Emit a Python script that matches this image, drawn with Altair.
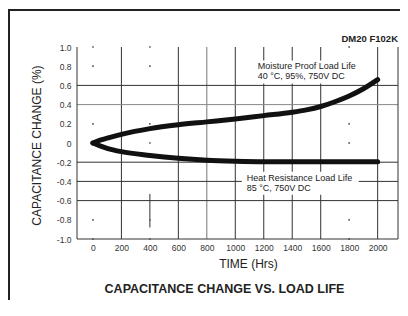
import altair as alt
import pandas as pd

FONT = "Liberation Sans"

# ---- data ----
hours = [0, 50, 100, 200, 400, 600, 800, 1000, 1200, 1400, 1500, 1600, 1700, 1800, 1900, 2000]
moisture = [0.0, 0.03, 0.05, 0.09, 0.15, 0.19, 0.22, 0.25, 0.285, 0.32, 0.345, 0.38, 0.43, 0.49, 0.565, 0.66]
heat = [0.0, -0.03, -0.055, -0.09, -0.13, -0.16, -0.18, -0.19, -0.195, -0.195, -0.195, -0.195, -0.195, -0.195, -0.195, -0.195]

x_ticks = [0, 200, 400, 600, 800, 1000, 1200, 1400, 1600, 1800, 2000]
y_ticks = [1.0, 0.8, 0.6, 0.4, 0.2, 0.0, -0.2, -0.4, -0.6, -0.8, -1.0]
x_domain = [-112, 2143]
y_domain = [-1.0, 1.0]

grid_x = [200, 600, 800, 1000, 1200, 1400, 1600, 2000]
grid_x_color = ["#333", "#333", "#777", "#333", "#333", "#333", "#333", "#333"]
grid_y = [0.6, 0.4, -0.2, -0.4, -0.6]
grid_y_color = ["#333", "#888", "#333", "#333", "#333"]
dots_x = [0, 400, 1800]
dots_y = [1.0, 0.8, 0.2, 0.0, -0.8, -1.0]
seg_x = [400]
seg_y = [-0.53]
seg_y2 = [-0.88]

box_x = [1123, 1046]
box_x2 = [1909, 1867]
box_y = [0.86, -0.30]
box_y2 = [0.62, -0.54]

note_text = ["Moisture Proof Load Life", "40 °C, 95%, 750V DC",
             "Heat Resistance Load Life", "85 °C, 750V DC"]
note_x = [1157, 1157, 1080, 1080]
note_y = [0.80, 0.70, -0.367, -0.467]

# ---- tables ----
curve_df = pd.DataFrame({
    "hours": hours * 2,
    "value": moisture + heat,
    "series": ["Moisture Proof Load Life"] * len(hours) + ["Heat Resistance Load Life"] * len(hours),
})
gx_df = pd.DataFrame({"x": grid_x, "c": grid_x_color})
gy_df = pd.DataFrame({"y": grid_y, "c": grid_y_color})
dots_df = pd.DataFrame([{"x": a, "y": b} for a in dots_x for b in dots_y])
seg_df = pd.DataFrame({"x": seg_x, "y": seg_y, "y2": seg_y2})
box_df = pd.DataFrame({"x": box_x, "x2": box_x2, "y": box_y, "y2": box_y2})
note_df = pd.DataFrame({"x": note_x, "y": note_y, "t": note_text})
border_x_df = pd.DataFrame({"x": x_domain})
border_y_df = pd.DataFrame({"y": [y_domain[0]]})

xs = alt.Scale(domain=x_domain, nice=False, zero=False)
ys = alt.Scale(domain=y_domain, nice=False, zero=False)

x_axis = alt.Axis(values=x_ticks, format="d", grid=False, ticks=False, domain=False,
                  labelFontSize=8.5, labelPadding=4, labelColor="#333", labelFont=FONT,
                  labelFlush=False, labelOverlap=False, labelBound=False, labelSeparation=0,
                  title="TIME (Hrs)", titleFont=FONT, titleFontSize=12,
                  titleFontWeight="normal", titleColor="#222", titleX=171, titleY=24,
                  titleAlign="center", titleBaseline="middle")
y_axis = alt.Axis(values=y_ticks, grid=False, ticks=False, domain=False,
                  labelExpr="datum.value == 0 ? '0' : ((datum.value < 0 ? '-' : '') + format(abs(datum.value), '.1f'))",
                  labelFontSize=8.5, labelPadding=6, labelColor="#333", labelFont=FONT,
                  labelOverlap=False, labelFlush=False, labelBound=False, labelSeparation=0,
                  title="CAPACITANCE CHANGE (%)", titleFont=FONT, titleFontSize=12,
                  titleFontWeight="normal", titleColor="#222", titleAngle=270,
                  titleX=-41, titleY=98, titleAlign="center", titleBaseline="middle")

X = lambda f: alt.X(f, scale=xs, axis=x_axis)
Y = lambda f: alt.Y(f, scale=ys, axis=y_axis)

curves = alt.Chart(curve_df).mark_line(
    color="#111", strokeWidth=5, interpolate="monotone", strokeCap="round", strokeJoin="round"
).encode(x=X("hours:Q"), y=Y("value:Q"), detail="series:N")

vgrid = alt.Chart(gx_df).mark_rule(strokeWidth=1).encode(
    x=X("x:Q"), color=alt.Color("c:N", scale=None))
hgrid = alt.Chart(gy_df).mark_rule(strokeWidth=1).encode(
    y=Y("y:Q"), color=alt.Color("c:N", scale=None))
seg = alt.Chart(seg_df).mark_rule(strokeWidth=1, color="#333").encode(
    x=X("x:Q"), y=Y("y:Q"), y2="y2:Q")
dots = alt.Chart(dots_df).mark_square(size=3, color="#666", opacity=1).encode(
    x=X("x:Q"), y=Y("y:Q"))
bx = alt.Chart(border_x_df).mark_rule(strokeWidth=1, color="#333").encode(x=X("x:Q"))
by = alt.Chart(border_y_df).mark_rule(strokeWidth=1, color="#333").encode(y=Y("y:Q"))
boxes = alt.Chart(box_df).mark_rect(color="white").encode(
    x=X("x:Q"), x2="x2:Q", y=Y("y:Q"), y2="y2:Q")
notes = alt.Chart(note_df).mark_text(
    align="left", baseline="middle", font=FONT, fontSize=9, color="#222"
).encode(x=X("x:Q"), y=Y("y:Q"), text="t:N")

code_lbl = alt.Chart(pd.DataFrame({"t": ["DM20 F102K"]})).mark_text(
    align="right", baseline="middle", font=FONT, fontSize=9.5, fontWeight="bold", color="#222"
).encode(x=alt.value(321), y=alt.value(-7.7), text="t:N")
bottom_title = alt.Chart(pd.DataFrame({"t": ["CAPACITANCE CHANGE VS. LOAD LIFE"]})).mark_text(
    align="center", baseline="middle", font=FONT, fontSize=12.5, fontWeight="bold", color="#222"
).encode(x=alt.value(147.5), y=alt.value(242.3), text="t:N")

frame_left = alt.Chart(pd.DataFrame({"k": [0]})).mark_rule(color="#222", strokeWidth=2).encode(
    x=alt.value(-68), y=alt.value(-38), y2=alt.value(253))
frame_top = alt.Chart(pd.DataFrame({"k": [0]})).mark_rule(color="#222", strokeWidth=2).encode(
    x=alt.value(-69), x2=alt.value(323), y=alt.value(-37))

chart = alt.layer(
    vgrid, hgrid, seg, dots, bx, by, boxes, curves, notes,
    code_lbl, bottom_title, frame_left, frame_top
).properties(
    width=321, height=192,
    padding={"left": 69, "top": 39, "right": 2, "bottom": 61},
    autosize=alt.AutoSizeParams(type="none"),
    background="white",
).configure_view(strokeWidth=0)

chart.save("out.html", embed_options={"renderer": "svg", "actions": False})
